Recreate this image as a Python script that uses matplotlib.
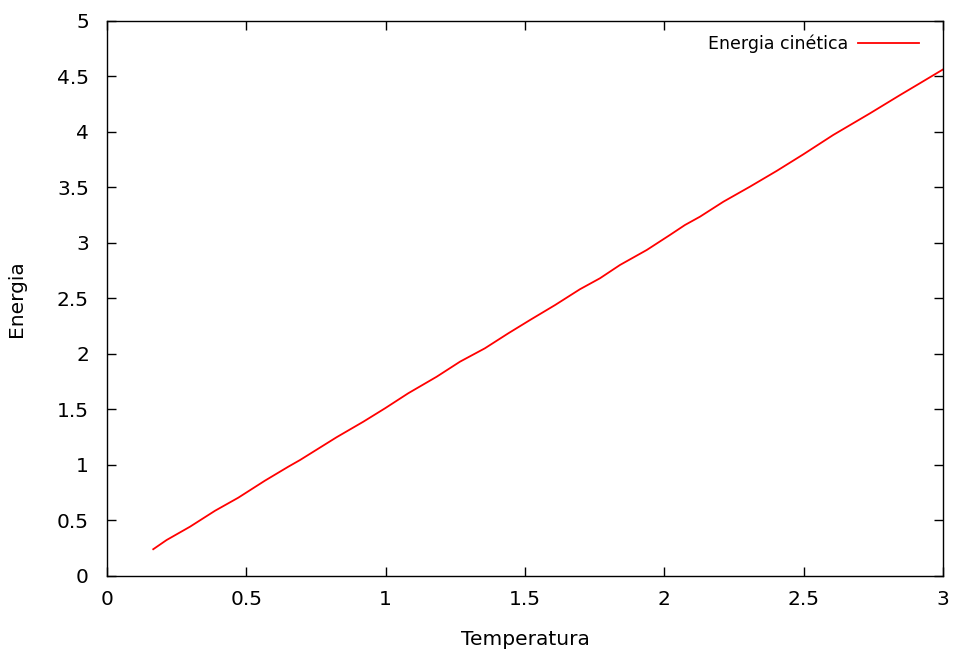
import matplotlib
matplotlib.use("Agg")
import matplotlib.pyplot as plt

# valori
temperatura = [0.166, 0.214, 0.298, 0.388, 0.471, 0.567, 0.651, 0.693, 0.824, 0.920,
               0.998, 1.081, 1.183, 1.267, 1.356, 1.440, 1.518, 1.608, 1.697, 1.769,
               1.841, 1.937, 2.020, 2.074, 2.128, 2.212, 2.307, 2.403, 2.499, 2.606,
               2.738, 2.846, 2.917, 3.001]
energia = [0.241, 0.324, 0.444, 0.588, 0.705, 0.859, 0.985, 1.045, 1.250, 1.390,
           1.511, 1.646, 1.795, 1.931, 2.051, 2.186, 2.306, 2.441, 2.583, 2.682,
           2.802, 2.937, 3.072, 3.162, 3.237, 3.372, 3.507, 3.649, 3.799, 3.973,
           4.168, 4.333, 4.439, 4.565]

xticks = [0, 0.5, 1, 1.5, 2, 2.5, 3]
xlabels = ["0", "0.5", "1", "1.5", "2", "2.5", "3"]
yticks = [0, 0.5, 1, 1.5, 2, 2.5, 3, 3.5, 4, 4.5, 5]
ylabels = ["0", "0.5", "1", "1.5", "2", "2.5", "3", "3.5", "4", "4.5", "5"]

fig = plt.figure(figsize=(9.56, 6.52), dpi=100)
ax = fig.add_axes([0.1119, 0.1166, 0.8745, 0.8512])

ax.plot(temperatura, energia, color="red", lw=1.3, label="Energia cinética")

ax.set_xlim(0, 3)
ax.set_ylim(0, 5)
ax.set_xticks(xticks)
ax.set_xticklabels(xlabels)
ax.set_yticks(yticks)
ax.set_yticklabels(ylabels)
ax.tick_params(direction="in", length=6.5, width=1, top=True, right=True,
               labelsize=14.5, color="black")
ax.tick_params(axis="x", pad=10)
ax.tick_params(axis="y", pad=13)
for s in ax.spines.values():
    s.set_linewidth(1.0)

ax.set_xlabel("Temperatura", fontsize=14.5, labelpad=15)
ax.set_ylabel("Energia", fontsize=14.5, labelpad=22)

ax.legend(loc="upper right", frameon=False, markerfirst=False, fontsize=12.5,
          handlelength=3.5, handletextpad=0.6, borderaxespad=0.5,
          bbox_to_anchor=(0.99, 1.003))

fig.savefig("out.png", dpi=100)
